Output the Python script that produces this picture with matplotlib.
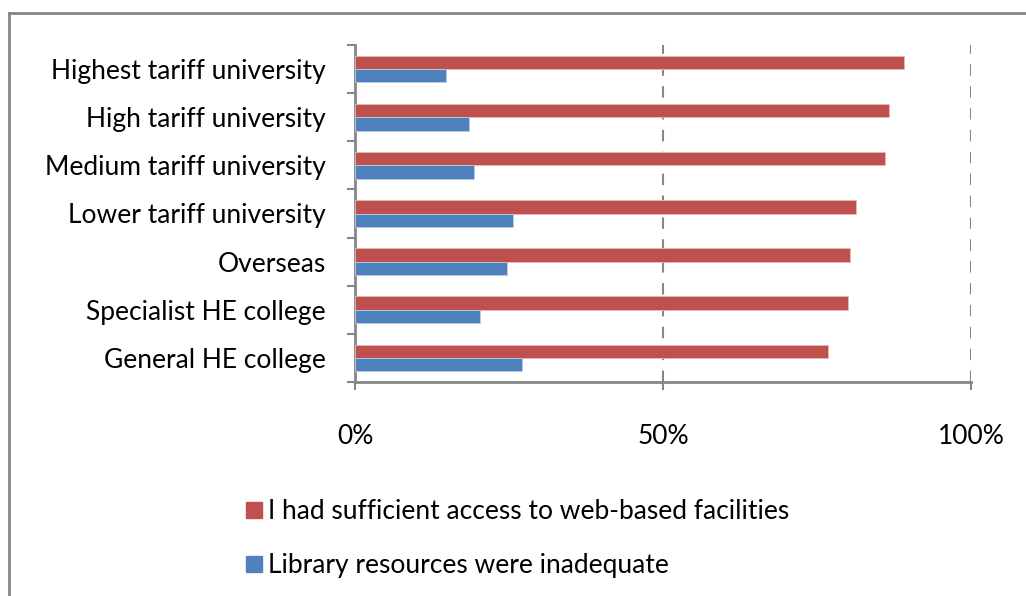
import numpy as np
import matplotlib
matplotlib.use("Agg")
import matplotlib.pyplot as plt
from matplotlib.lines import Line2D

plt.rcParams['font.family'] = ['Lato', 'DejaVu Sans']

categories = ["General HE college", "Specialist HE college", "Overseas",
              "Lower tariff university", "Medium tariff university",
              "High tariff university", "Highest tariff university"]
web_access = [76.8, 80.0, 80.3, 81.4, 86.0, 86.7, 89.2]
library_bad = [27.1, 20.3, 24.6, 25.7, 19.3, 18.5, 14.7]
series_names = ["I had sufficient access to web-based facilities",
                "Library resources were inadequate"]
tick_vals = [0, 50, 100]
tick_labels = ["0%", "50%", "100%"]

red = "#C0504D"
blue = "#4F81BD"
grey = "#868686"
fs = 19

fig = plt.figure(figsize=(10.26, 5.96), dpi=100)
ax = fig.add_axes([355 / 1026, 1 - 382 / 596, 616 / 1026, 337 / 596])

y = np.arange(len(categories))
h = 0.277
ax.barh(y + h / 2, web_access, height=h, color=red, edgecolor="#E6B9B8", linewidth=0.6, zorder=3)
ax.barh(y - h / 2, library_bad, height=h, color=blue, edgecolor="#B9CDE5", linewidth=0.6, zorder=3)

ax.set_xlim(0, 100)
ax.set_ylim(-0.5, len(categories) - 0.5)
ax.set_xticks(tick_vals)
ax.set_xticklabels(tick_labels, fontsize=fs)
ax.set_yticks(y)
ax.set_yticklabels(categories, fontsize=fs)
ax.tick_params(axis="y", length=0, pad=21)
ax.set_yticks(np.arange(len(categories) + 1) - 0.5, minor=True)
ax.tick_params(axis="y", which="minor", length=6, width=1.5, color=grey)
ax.tick_params(axis="x", length=6, width=1.5, color=grey, pad=24)

ax.xaxis.grid(True, linestyle=(0, (5.5, 5)), color=grey, linewidth=1.5, zorder=0)
for s in ["top", "right"]:
    ax.spines[s].set_visible(False)
for s in ["left", "bottom"]:
    ax.spines[s].set_color(grey)
    ax.spines[s].set_linewidth(2)

# chart border (left and top only visible in the crop)
fig.add_artist(Line2D([9 / 1026, 9 / 1026], [0, 1 - 13 / 596], color=grey, lw=2))
fig.add_artist(Line2D([9 / 1026, 1], [1 - 13 / 596, 1 - 13 / 596], color=grey, lw=2))

handles = [Line2D([], [], marker="s", color=red, linestyle="none", markersize=11),
           Line2D([], [], marker="s", color=blue, linestyle="none", markersize=11)]
fig.legend(handles, series_names, loc="upper left", bbox_to_anchor=(247 / 1026, 1 - 499 / 596),
           frameon=False, fontsize=fs, handlelength=0.55, handletextpad=0.25, labelspacing=1.1,
           borderpad=0, borderaxespad=0)

fig.savefig("out.png", dpi=100)
